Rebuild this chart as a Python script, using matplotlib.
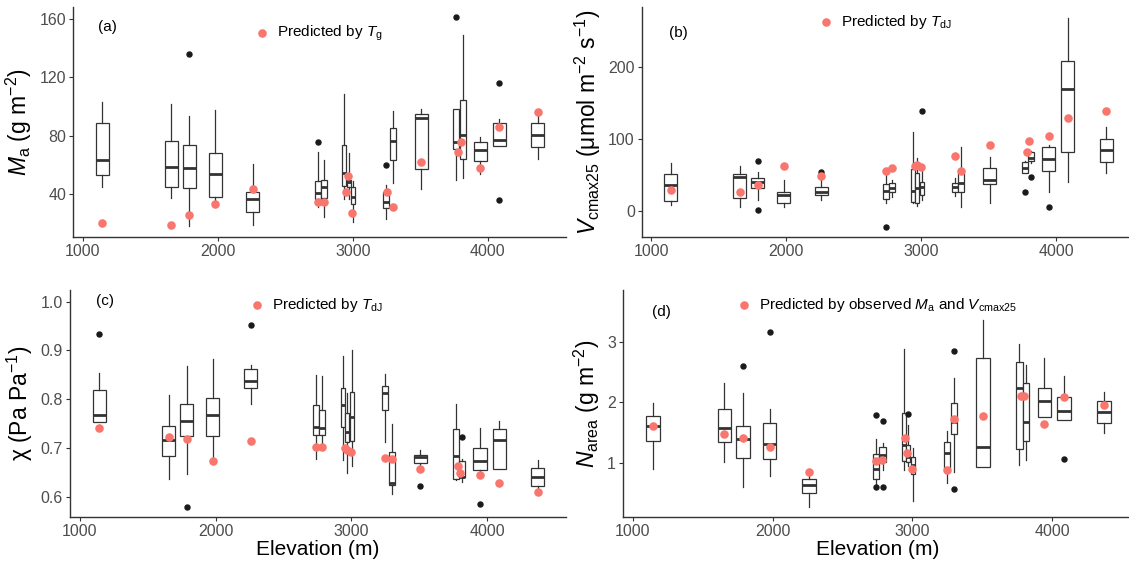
import matplotlib
matplotlib.use('Agg')
import matplotlib.pyplot as plt
import numpy as np

plt.rcParams['font.family'] = ['Liberation Sans', 'DejaVu Sans']
plt.rcParams['mathtext.fontset'] = 'custom'
plt.rcParams['mathtext.rm'] = 'Liberation Sans'
plt.rcParams['mathtext.it'] = 'Liberation Sans:italic'
plt.rcParams['mathtext.bf'] = 'Liberation Sans:bold'

# ~~~~~~~~~~~~~~~~~~~~~~~~~~~~~~~~~~   RAW  DATA   ~~~~~~~~~~~~~~~~~~~~~~~~~~~~~~~~~~
# site elevations (m)
elevation = [1145, 1655, 1790, 1980, 2260, 2740, 2785, 2950, 2965, 2995,
             3250, 3295, 3505, 3780, 3800, 3945, 4085, 4370]

# (a) Ma (g m-2)
ma_low = [45, 37, 17.6, 35, 18.5, 31.3, 24, 36.8, 36.3, 21, 22.6, 47.1, 43.4, 49.4, 50.8, 53.7, 73, 63.8]
ma_q1 = [53, 45, 43.9, 37.7, 27.4, 36.3, 37.3, 45.5, 45, 32.7, 30, 63.1, 57, 70.9, 63.8, 62.2, 73, 72.3]
ma_med = [62.9, 58.3, 57.6, 53.3, 36.6, 40.5, 45, 54.2, 47.8, 37.7, 34.3, 76.4, 91.8, 75.5, 80.5, 69.8, 77.1, 80.5]
ma_q3 = [88.6, 76, 73.2, 67.7, 41.4, 48.7, 49.4, 73.4, 49.6, 44.6, 41, 85.1, 95, 98.4, 104.6, 75.3, 88.6, 88.6]
ma_high = [102.8, 101.8, 93.6, 97.4, 60.6, 68.9, 63.1, 108.5, 68.2, 48.5, 46.2, 96.8, 98.2, 98.4, 149, 79.2, 91.3, 94.3]
ma_out = [[], [], [136.2], [], [], [75.5], [], [], [], [], [59.5], [], [], [161], [], [], [116, 35.9], []]
ma_pred = [20.3, 18.5, 25.4, 32.7, 43.2, 34.5, 34.5, 41.2, 52, 27, 41.6, 30.9, 61.8, 68.6, 75.7, 58, 86, 96.3]

# (b) Vcmax25 (umol m-2 s-1)
vc_low = [8.8, 5.6, 15.3, 6, 15.3, 10.7, 20, 10.7, 7, 15.3, 20.9, 5.1, 11.6, 53.4, 66.4, 26, 39.9, 52.4]
vc_q1 = [13.5, 17.6, 31.6, 10.7, 22.3, 16.2, 26, 13, 11.6, 22.3, 26.9, 26.5, 37.6, 53.4, 69.6, 56.1, 82.1, 67.3]
vc_med = [36.2, 47.8, 40.4, 22.3, 26.9, 27.8, 31.6, 28.3, 31.6, 32.9, 33.9, 39.4, 43.2, 59.4, 73.8, 71.9, 169.4, 84]
vc_q3 = [51.5, 51.5, 46.4, 26.9, 33.9, 37.6, 38.5, 58, 52.4, 40.8, 39.4, 52.4, 59.4, 67.3, 81.2, 88.6, 208, 100.2]
vc_high = [66.4, 63, 54.8, 43.2, 45, 52.4, 43.2, 109, 73.3, 61.7, 45.5, 88.2, 75.6, 68.7, 82.6, 91.4, 268, 116]
vc_out = [[], [], [70, 1], [], [54.8], [-21.8], [], [], [], [139.2], [], [], [], [26.5], [47.3], [6], [], []]
vc_pred = [28.8, 26.9, 35.7, 62.2, 48.3, 55.7, 60.3, 63.1, 64, 61.3, 76.6, 56.1, 91, 81.7, 97, 103.9, 129, 138.7]

# (c) chi (Pa Pa-1)
chi_low = [0.754, 0.635, 0.647, 0.680, 0.791, 0.677, 0.705, 0.675, 0.649, 0.663, 0.711, 0.605, 0.664, 0.633, 0.629, 0.653, 0.657, 0.613]
chi_q1 = [0.754, 0.684, 0.724, 0.725, 0.822, 0.727, 0.727, 0.743, 0.711, 0.713, 0.777, 0.623, 0.669, 0.637, 0.640, 0.655, 0.657, 0.622]
chi_med = [0.768, 0.716, 0.756, 0.768, 0.838, 0.742, 0.740, 0.788, 0.733, 0.764, 0.813, 0.628, 0.682, 0.684, 0.641, 0.672, 0.717, 0.641]
chi_q3 = [0.818, 0.744, 0.789, 0.803, 0.862, 0.788, 0.778, 0.823, 0.771, 0.815, 0.827, 0.692, 0.685, 0.738, 0.672, 0.699, 0.738, 0.658]
chi_high = [0.853, 0.808, 0.867, 0.882, 0.870, 0.850, 0.847, 0.888, 0.812, 0.900, 0.852, 0.749, 0.695, 0.789, 0.677, 0.740, 0.756, 0.675]
chi_out = [[0.933], [], [0.579], [], [0.953], [], [], [], [], [], [], [], [0.621], [], [0.722], [0.584], [], []]
chi_pred = [0.740, 0.723, 0.718, 0.672, 0.713, 0.702, 0.702, 0.699, 0.695, 0.692, 0.680, 0.678, 0.656, 0.663, 0.648, 0.645, 0.628, 0.610]

# (d) Narea (g m-2)
na_low = [0.901, 1.016, 0.6, 0.781, 0.26, 0.562, 0.874, 0.874, 0.95, 0.370, 0.671, 0.847, 0.934, 0.962, 1.038, 1.751, 1.712, 1.493]
na_q1 = [1.356, 1.345, 1.082, 1.055, 0.490, 0.737, 1.011, 1.027, 1.011, 0.808, 0.907, 1.477, 0.934, 1.230, 1.367, 1.751, 1.712, 1.658]
na_med = [1.614, 1.575, 1.395, 1.312, 0.627, 0.890, 1.121, 1.285, 1.093, 0.956, 1.164, 1.674, 1.258, 2.244, 1.674, 2.025, 1.849, 1.833]
na_q3 = [1.767, 1.893, 1.614, 1.658, 0.726, 1.148, 1.258, 1.822, 1.285, 1.093, 1.340, 1.986, 2.726, 2.671, 2.315, 2.233, 2.085, 2.014]
na_high = [1.986, 2.326, 2.151, 1.893, 0.80, 1.4, 1.318, 2.89, 1.630, 1.247, 1.521, 2.408, 3.356, 2.962, 2.616, 2.726, 2.436, 2.178]
na_out = [[], [], [2.605], [3.164], [], [1.795, 0.589], [1.685, 0.589], [], [1.805], [], [], [2.847, 0.562], [], [], [], [], [1.055], []]
na_pred = [1.603, 1.477, 1.411, 1.258, 0.852, 1.027, 1.038, 1.411, 1.164, 0.890, 0.874, 1.723, 1.778, 2.096, 2.096, 1.641, 2.085, 1.948]


# ~~~~~~~~~~~~~~~~~~~~~~~~~~~~~~~~~~  BOX LAYOUT  ~~~~~~~~~~~~~~~~~~~~~~~~~~~~~~~~~~
# boxes of sites closer than 100 m are dodged side by side (like ggplot's dodge2)
elev = np.array(elevation, dtype=float)
box_w = 96.0
groups = []
for i, e in enumerate(elev):
    if groups and e - elev[groups[-1][-1]] < 100:
        groups[-1].append(i)
    else:
        groups.append([i])
positions = np.zeros(len(elev))
widths = np.zeros(len(elev))
for g in groups:
    n = len(g)
    centre = elev[g].mean()
    w = box_w / n
    for k, i in enumerate(g):
        positions[i] = centre + (k - (n - 1) / 2) * w
        widths[i] = w * (0.92 if n > 1 else 1.0)

RED = '#F8766D'
LINE = '#333333'


def draw_panel(ax, low, q1, med, q3, high, out, pred, ylim, yticks, ylabel, legend_label, tag, leg_pos, tag_pos):
    stats = []
    for i in range(len(elevation)):
        stats.append(dict(whislo=low[i], q1=q1[i], med=med[i], q3=q3[i], whishi=high[i], fliers=out[i]))
    ax.bxp(stats, positions=positions, widths=widths, showcaps=False, patch_artist=True,
           manage_ticks=False,
           boxprops=dict(facecolor='white', edgecolor=LINE, linewidth=0.9),
           whiskerprops=dict(color=LINE, linewidth=0.9),
           medianprops=dict(color=LINE, linewidth=2.0, solid_capstyle='butt'),
           flierprops=dict(marker='o', markerfacecolor='#1a1a1a', markeredgecolor='#1a1a1a', markersize=3.6))
    sc = ax.scatter(elevation, pred, s=38, color=RED, zorder=5, label=legend_label, linewidths=0)
    ax.set_xlim(930, 4578)
    ax.set_ylim(ylim)
    ax.set_xticks([1000, 2000, 3000, 4000])
    ax.set_yticks(yticks)
    ax.set_ylabel(ylabel, fontsize=16.5, labelpad=4)
    ax.spines['top'].set_visible(False)
    ax.spines['right'].set_visible(False)
    for s in ['left', 'bottom']:
        ax.spines[s].set_color('#333333')
        ax.spines[s].set_linewidth(1.0)
    ax.tick_params(colors='#333333', labelcolor='#4D4D4D', labelsize=11.5, length=3, width=0.8, pad=2)
    ax.legend(handles=[sc], loc='center left', bbox_to_anchor=leg_pos, frameon=False, fontsize=11,
              handlelength=0.8, handletextpad=0.6, borderpad=0, borderaxespad=0)
    ax.text(tag_pos[0], tag_pos[1], tag, transform=ax.transAxes, fontsize=11, ha='center', va='center')


fig = plt.figure(figsize=(11.29, 5.66), dpi=100)
ax_a = fig.add_axes([0.0649, 0.5813, 0.4364, 0.4064])
ax_b = fig.add_axes([0.5684, 0.5813, 0.4364, 0.4064])
ax_c = fig.add_axes([0.0620, 0.0866, 0.4394, 0.4010])
ax_d = fig.add_axes([0.5518, 0.0866, 0.4517, 0.4010])

draw_panel(ax_a, ma_low, ma_q1, ma_med, ma_q3, ma_high, ma_out, ma_pred,
           (10.4, 168.2), [40, 80, 120, 160], r'$M_\mathrm{a}$ (g m$^{-2}$)',
           r'Predicted by $T_\mathrm{g}$', '(a)', (0.37, 0.885), (0.07, 0.915))
draw_panel(ax_b, vc_low, vc_q1, vc_med, vc_q3, vc_high, vc_out, vc_pred,
           (-36, 283), [0, 100, 200], r'$V_\mathrm{cmax25}$ ($\mathrm{\mu}$mol m$^{-2}$ s$^{-1}$)',
           r'Predicted by $T_\mathrm{dJ}$', '(b)', (0.362, 0.935), (0.075, 0.885))
draw_panel(ax_c, chi_low, chi_q1, chi_med, chi_q3, chi_high, chi_out, chi_pred,
           (0.558, 1.024), [0.6, 0.7, 0.8, 0.9, 1.0], r'χ (Pa Pa$^{-1}$)',
           r'Predicted by $T_\mathrm{dJ}$', '(c)', (0.365, 0.935), (0.07, 0.95))
draw_panel(ax_d, na_low, na_q1, na_med, na_q3, na_high, na_out, na_pred,
           (0.10, 3.86), [1, 2, 3], r'$N_\mathrm{area}$ (g m$^{-2}$)',
           r'Predicted by observed $M_\mathrm{a}$ and $V_\mathrm{cmax25}$', '(d)', (0.225, 0.935), (0.075, 0.905))
ax_c.set_yticklabels(['0.6', '0.7', '0.8', '0.9', '1.0'])
ax_c.set_xlabel('Elevation (m)', fontsize=15, labelpad=1)
ax_d.set_xlabel('Elevation (m)', fontsize=15, labelpad=1)

fig.savefig('out.png', dpi=100)
